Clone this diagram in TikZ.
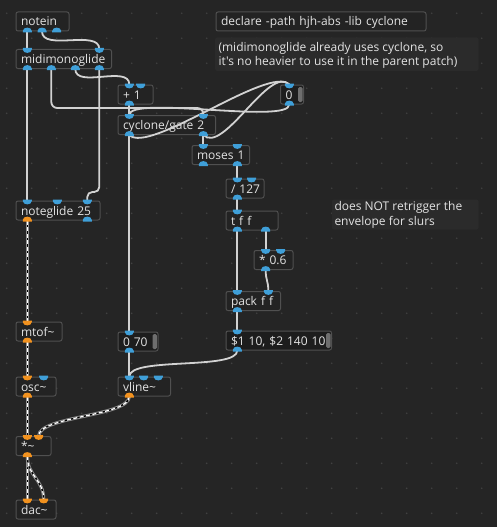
\documentclass[tikz,border=0pt]{standalone}
\usepackage{fontspec}
\setmainfont{Open Sans}[Ligatures=TeXOff]
\usetikzlibrary{calc}
\definecolor{bgc}{HTML}{252525}
\definecolor{boxfill}{HTML}{232323}
\definecolor{msgfill}{HTML}{1D1D1D}
\definecolor{boxline}{HTML}{505050}
\definecolor{cmtfill}{HTML}{2B2B2B}
\definecolor{cordc}{HTML}{D2D2D2}
\definecolor{ctlio}{HTML}{3F9FD8}
\definecolor{sigio}{HTML}{F2921F}
\definecolor{flagc}{HTML}{6E6E6E}
\definecolor{txt}{HTML}{E3E3E3}
\definecolor{dotc}{HTML}{414141}
\definecolor{sigedge}{HTML}{8E8E8E}
\tikzset{
  obj/.style={draw=boxline, fill=boxfill, line width=1pt, rounded corners=2pt,
    inner xsep=5pt, inner ysep=0pt, minimum height=19pt, text height=11pt,
    text depth=2pt, align=left, text=txt, font=\fontsize{12}{14}\selectfont,
    anchor=north west},
  msgbox/.style={obj, fill=msgfill},
  cmtbg/.style={fill=cmtfill, rounded corners=2pt, inner sep=0pt, anchor=north west},
  cmttxt/.style={anchor=base west, inner sep=0pt, text=txt, font=\fontsize{12}{14}\selectfont},
  ctl/.style={draw=cordc, line width=1.8pt},
  seg/.style={ctl, rounded corners=6pt},
  sig/.style={draw=sigedge, line width=3.2pt,
    postaction={draw=black, line width=1.3pt},
    postaction={draw=white, line width=1.3pt, dash pattern=on 4pt off 2.5pt}},
  pics/inc/.style={code={\fill[ctlio] (-4.5,-1) -- (-4.5,0.5) .. controls (-4.5,5) and (4.5,5) .. (4.5,0.5) -- (4.5,-1) -- cycle;}},
  pics/ins/.style={code={\fill[sigio] (-4.5,-1) -- (-4.5,0.5) .. controls (-4.5,5) and (4.5,5) .. (4.5,0.5) -- (4.5,-1) -- cycle;}},
  pics/outc/.style={code={\fill[ctlio] (-4.5,1) -- (-4.5,-0.5) .. controls (-4.5,-5) and (4.5,-5) .. (4.5,-0.5) -- (4.5,1) -- cycle;}},
  pics/outs/.style={code={\fill[sigio] (-4.5,1) -- (-4.5,-0.5) .. controls (-4.5,-5) and (4.5,-5) .. (4.5,-0.5) -- (4.5,1) -- cycle;}},
}
\newcommand\msgflag[1]{\fill[flagc, rounded corners=1.5pt] ($(#1.north east)+(-6,2.5)$) rectangle ($(#1.south east)+(-1.5,-2.5)$);}
\begin{document}
\begin{tikzpicture}[x=1pt,y=-1pt]
\useasboundingbox (0,0) rectangle (497,527);
\fill[bgc] (0,0) rectangle (497,527);
\foreach \i in {0,...,19} \foreach \j in {0,...,20} \fill[dotc] (6.7+25*\i,13.3+25*\j) circle (0.9pt);

% comments
\node[cmtbg, minimum width=263.3pt, minimum height=33.4pt] (c1) at (215,37.3) {};
\node[cmttxt] (c1a) at ($(c1.north west)+(3.3,14.3)$) {(midimonoglide already uses cyclone, so};
\node[cmttxt] (c1b) at ($(c1.north west)+(3.3,28.7)$) {it's no heavier to use it in the parent patch)};
\node[cmtbg, minimum width=146.6pt, minimum height=30pt] (c2) at (331.7,199.3) {};
\node[cmttxt] (c2a) at ($(c2.north west)+(2.6,11.3)$) {does NOT retrigger the};
\node[cmttxt] (c2b) at ($(c2.north west)+(2.6,26)$) {envelope for slurs};

% boxes
\node[obj, text width=200pt] (decl) at (215.5,11.5) {\mbox{declare -path hjh-abs -lib cyclone}};
\node[obj, text width=43pt] (notein) at (15.5,11.5) {\mbox{notein}};
\node[obj, text width=85.5pt] (mm) at (15.5,49) {\mbox{midimonoglide}};
\node[obj, text width=25pt] (plus) at (117.5,84.5) {\mbox{+ 1}};
\node[obj, text width=87.5pt] (gate) at (117.5,115) {\mbox{cyclone/gate 2}};
\node[msgbox, text width=13pt] (zero) at (280,84.5) {\mbox{0}};
\node[obj, text width=47.5pt] (moses) at (191.5,145) {\mbox{moses 1}};
\node[obj, text width=28pt] (div) at (225.5,178.5) {\mbox{/ 127}};
\node[obj, text width=42pt] (tff) at (225.5,210.5) {\mbox{t f f}};
\node[obj, text width=29pt] (mul) at (253.5,250) {\mbox{* 0.6}};
\node[obj, text width=44.5pt] (pack) at (225.5,291) {\mbox{pack f f}};
\node[msgbox, text width=95.5pt] (env) at (225.5,330.5) {\mbox{\$1 10, \$2 140 10}};
\node[msgbox, text width=30pt] (z70) at (117.5,331.5) {\mbox{0 70}};
\node[obj, text width=42.5pt] (vline) at (117.5,376.5) {\mbox{vline\textasciitilde}};
\node[obj, text width=74pt] (ng) at (15.5,200.5) {\mbox{noteglide 25}};
\node[obj, text width=36pt] (mtof) at (15.5,321.5) {\mbox{mtof\textasciitilde}};
\node[obj, text width=30pt] (osc) at (15.5,376.5) {\mbox{osc\textasciitilde}};
\node[obj, text width=25pt] (mulsig) at (15.5,436) {\mbox{*\textasciitilde}};
\node[obj, text width=30pt] (dac) at (15.5,499.5) {\mbox{dac\textasciitilde}};
\msgflag{zero}
\msgflag{env}
\msgflag{z70}

% iolet coordinates
\coordinate (notein-o0) at ($(notein.south west)+(11.8,0)$);
\coordinate (notein-o1) at ($(notein.south west)+(26.5,0)$);
\coordinate (notein-o2) at ($(notein.south west)+(41.2,0)$);
\coordinate (mm-i0) at ($(mm.north west)+(11.8,0)$);
\coordinate (mm-i1) at ($(mm.north west)+(83.8,0)$);
\coordinate (mm-o0) at ($(mm.south west)+(11.8,0)$);
\coordinate (mm-o1) at ($(mm.south west)+(35.8,0)$);
\coordinate (mm-o2) at ($(mm.south west)+(59.8,0)$);
\coordinate (mm-o3) at ($(mm.south west)+(83.8,0)$);
\coordinate (plus-i0) at ($(plus.north west)+(11.8,0)$);
\coordinate (plus-i1) at ($(plus.north west)+(23.2,0)$);
\coordinate (plus-o0) at ($(plus.south west)+(11.8,0)$);
\coordinate (gate-i0) at ($(gate.north west)+(11.8,0)$);
\coordinate (gate-i1) at ($(gate.north west)+(85.8,0)$);
\coordinate (gate-o0) at ($(gate.south west)+(11.8,0)$);
\coordinate (gate-o1) at ($(gate.south west)+(85.8,0)$);
\coordinate (zero-i) at ($(zero.north west)+(9.3,0)$);
\coordinate (zero-o) at ($(zero.south west)+(9.3,0)$);
\coordinate (moses-i0) at ($(moses.north west)+(11.8,0)$);
\coordinate (moses-i1) at ($(moses.north west)+(45.8,0)$);
\coordinate (moses-o0) at ($(moses.south west)+(11.8,0)$);
\coordinate (moses-o1) at ($(moses.south west)+(45.8,0)$);
\coordinate (div-i0) at ($(div.north west)+(11.8,0)$);
\coordinate (div-i1) at ($(div.north west)+(26,0)$);
\coordinate (div-o) at ($(div.south west)+(11.8,0)$);
\coordinate (tff-i) at ($(tff.north west)+(11.8,0)$);
\coordinate (tff-o0) at ($(tff.south west)+(11.8,0)$);
\coordinate (tff-o1) at ($(tff.south west)+(40.2,0)$);
\coordinate (mul-i0) at ($(mul.north west)+(12.2,0)$);
\coordinate (mul-i1) at ($(mul.north west)+(27.2,0)$);
\coordinate (mul-o) at ($(mul.south west)+(12.2,0)$);
\coordinate (pack-i0) at ($(pack.north west)+(11.8,0)$);
\coordinate (pack-i1) at ($(pack.north west)+(42.8,0)$);
\coordinate (pack-o) at ($(pack.south west)+(11.8,0)$);
\coordinate (env-i) at ($(env.north west)+(11.8,0)$);
\coordinate (env-o) at ($(env.south west)+(11.8,0)$);
\coordinate (z70-i) at ($(z70.north west)+(11.8,0)$);
\coordinate (z70-o) at ($(z70.south west)+(11.8,0)$);
\coordinate (vline-i0) at ($(vline.north west)+(11.8,0)$);
\coordinate (vline-i1) at ($(vline.north west)+(26.2,0)$);
\coordinate (vline-i2) at ($(vline.north west)+(40.8,0)$);
\coordinate (vline-o) at ($(vline.south west)+(11.8,0)$);
\coordinate (ng-i0) at ($(ng.north west)+(11.8,0)$);
\coordinate (ng-i1) at ($(ng.north west)+(41.8,0)$);
\coordinate (ng-i2) at ($(ng.north west)+(71.8,0)$);
\coordinate (ng-o0) at ($(ng.south west)+(11.8,0)$);
\coordinate (ng-o1) at ($(ng.south west)+(71.8,0)$);
\coordinate (mtof-i) at ($(mtof.north west)+(11.8,0)$);
\coordinate (mtof-o) at ($(mtof.south west)+(11.8,0)$);
\coordinate (osc-i0) at ($(osc.north west)+(11.8,0)$);
\coordinate (osc-i1) at ($(osc.north west)+(28.2,0)$);
\coordinate (osc-o) at ($(osc.south west)+(11.8,0)$);
\coordinate (ms-i0) at ($(mulsig.north west)+(11.8,0)$);
\coordinate (ms-i1) at ($(mulsig.north west)+(23.2,0)$);
\coordinate (ms-o) at ($(mulsig.south west)+(11.8,0)$);
\coordinate (dac-i0) at ($(dac.north west)+(11.8,0)$);
\coordinate (dac-i1) at ($(dac.north west)+(28.2,0)$);

% control cords
\draw[ctl] (notein-o0) -- (mm-i0);
\draw[ctl] (notein-o1) .. controls ($(notein-o1)+(0,20)$) and ($(mm-i1)+(0,-20)$) .. (mm-i1);
\draw[ctl] (mm-o0) -- (ng-i0);
\draw[seg] (mm-o1) |- ($(gate-i1)+(0,-7)$) -- (gate-i1);
\draw[ctl] (mm-o2) .. controls ($(mm-o2)+(0,20)$) and ($(plus-i0)+(0,-20)$) .. (plus-i0);
\draw[ctl, rounded corners=5pt] (mm-o3) |- ($(ng-i2)+(0,-8.5)$) -- (ng-i2);
\draw[ctl] (plus-o0) -- (gate-i0);
\draw[ctl] (zero-o) .. controls ($(zero-o)+(0,20)$) and ($(gate-i0)+(0,-20)$) .. (gate-i0);
\draw[ctl] (gate-o0) .. controls ($(gate-o0)+(20,20)$) and ($(zero-i)+(-20,-20)$) .. (zero-i);
\draw[ctl] (gate-o1) .. controls ($(gate-o1)+(20,20)$) and ($(zero-i)+(-20,-20)$) .. (zero-i);
\draw[ctl] (gate-o1) -- (moses-i0);
\draw[ctl] (gate-o0) -- (z70-i);
\draw[ctl] (moses-o1) -- (div-i0);
\draw[ctl] (div-o) -- (tff-i);
\draw[ctl] (tff-o0) -- (pack-i0);
\draw[ctl] (tff-o1) -- (mul-i0);
\draw[ctl] (mul-o) .. controls ($(mul-o)+(0,11)$) and ($(pack-i1)+(0,-11)$) .. (pack-i1);
\draw[ctl] (pack-o) -- (env-i);
\draw[ctl] (env-o) .. controls ($(env-o)+(0,20)$) and ($(vline-i0)+(0,-20)$) .. (vline-i0);
\draw[ctl] (z70-o) -- (vline-i0);

% signal cords
\draw[sig] (ng-o0) -- (mtof-i);
\draw[sig] (mtof-o) -- (osc-i0);
\draw[sig] (osc-o) -- (ms-i0);
\draw[sig] (vline-o) .. controls ($(vline-o)+(0,20)$) and ($(ms-i1)+(0,-20)$) .. (ms-i1);
\draw[sig] (ms-o) -- (dac-i0);
\draw[sig] (ms-o) .. controls ($(ms-o)+(0,20)$) and ($(dac-i1)+(0,-20)$) .. (dac-i1);

% iolets
\foreach \c in {notein-o0,notein-o1,notein-o2,mm-o0,mm-o1,mm-o2,mm-o3,plus-o0,gate-o0,gate-o1,zero-o,moses-o0,moses-o1,div-o,tff-o0,tff-o1,mul-o,pack-o,env-o,z70-o,ng-o1}
  \pic at (\c) {outc};
\foreach \c in {mm-i0,mm-i1,plus-i0,plus-i1,gate-i0,gate-i1,zero-i,moses-i0,moses-i1,div-i0,div-i1,tff-i,mul-i0,mul-i1,pack-i0,pack-i1,env-i,z70-i,vline-i0,vline-i1,vline-i2,ng-i0,ng-i1,ng-i2,osc-i1}
  \pic at (\c) {inc};
\foreach \c in {mtof-i,osc-i0,ms-i0,ms-i1,dac-i0,dac-i1}
  \pic at (\c) {ins};
\foreach \c in {ng-o0,mtof-o,osc-o,ms-o,vline-o}
  \pic at (\c) {outs};
\end{tikzpicture}
\end{document}
